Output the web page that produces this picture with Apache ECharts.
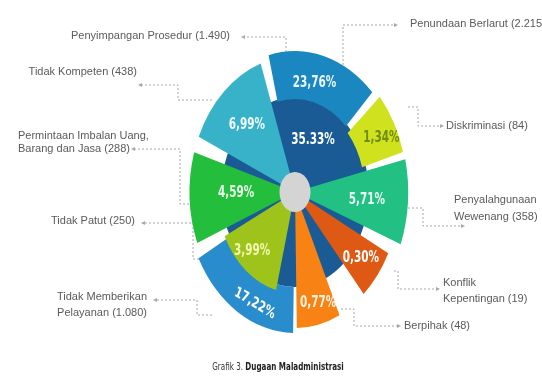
<!DOCTYPE html>
<html><head><meta charset="utf-8">
<script src="https://cdn.jsdelivr.net/npm/echarts@6/dist/echarts.min.js"></script>
<style>html,body{margin:0;padding:0;background:#fff}#c{width:542px;height:382px}</style>
</head><body><div id="c"></div>
<script>
// ---- data ----
const categories = ['Penundaan Berlarut','Penyimpangan Prosedur','Diskriminasi','Penyalahgunaan Wewenang','Konflik Kepentingan','Berpihak','Tidak Memberikan Pelayanan','Tidak Patut','Permintaan Imbalan Uang, Barang dan Jasa','Tidak Kompeten'];
const counts = ['2.215','1.490','84','358','19','48','1.080','250','288','438'];
const percents = ['35.33%','23,76%','1,34%','5,71%','0,30%','0,77%','17,22%','3,99%','4,59%','6,99%'];
// slice extents as drawn in the infographic (angle: degrees clockwise from 12 o'clock, radius: axis units)
const sliceStart = [0, -14, 49, 77, 117, 155, 181, 194, 248, 294];
const sliceEnd   = [360, 45, 74, 111, 139, 179, 242, 244, 287, 341];
const sliceInner = [0, 93, 90, 0, 0, 0, 95, 0, 0, 0];
const sliceOuter = [95, 141, 145, 146, 135, 136, 141, 101, 136, 136];

// ---- layout / styles ----
const squeezeX = 0.775; // the infographic is drawn horizontally compressed
const colors = ['#1a5b96','#1a87c0','#d0e11e','#22c082','#de5a14','#f88214','#288ccd','#9ec41c','#23be3c','#37b2c8'];
const pctR   = [57, 112, 124, 93, 108, 115, 123, 81, 76, 91];
const pctA   = [24, 13, 64, 95, 128, 165, 205, 223, 269, 317];
const pctRot = [0, 0, 0, 0, 0, 0, -25, 0, 0, 0];
const pctCol = ['#ffffff','#eaf6ff','#6f8c10','#e9fff2','#ffffff','#fff3e0','#ffffff','#f1f7b0','#eaffea','#f0fbff'];
const nameText = [
  'Penundaan Berlarut (2.215)','Penyimpangan Prosedur (1.490)','Diskriminasi (84)','Penyalahgunaan\nWewenang (358)',
  'Konflik\nKepentingan (19)','Berpihak (48)','Tidak Memberikan\nPelayanan (1.080)','Tidak Patut (250)',
  'Permintaan Imbalan Uang,\nBarang dan Jasa (288)','Tidak Kompeten (438)'];
const namePos = [[410,24,'left'],[230,36,'right'],[446,126,'left'],[454,208,'left'],[443,291,'left'],[404,326,'left'],[147,305,'right'],[135,221,'right'],[18,142,'left'],[137,72,'right']];
const nameLH  = [14,14,14,17,16,14,16,14,13,14];
const leaders = [
  [[343,157],[343,25],[396,25]],
  [[286,52],[286,37],[243,37]],
  [[408,107],[418,107],[418,126],[442,126]],
  [[408,208],[423,208],[423,226],[463,226]],
  [[394,271],[398,271],[398,289],[438,289]],
  [[341,309],[354,309],[354,326],[399,326]],
  [[212,315],[197,315],[197,300],[155,300]],
  [[227,259],[193,259],[193,223],[143,223]],
  [[193,204],[180,204],[180,149],[133,149]],
  [[212,100],[178,100],[178,85],[140,85]]
];

const narrow = '"Liberation Sans Narrow","Arial Narrow","DejaVu Sans Condensed",sans-serif';
const chart = echarts.init(document.getElementById('c'), null, {renderer:'canvas'});

const rows = categories.map((n,i)=>[sliceStart[i], sliceEnd[i], sliceInner[i], sliceOuter[i], pctR[i], pctA[i]]);
rows.push([0, 360, 0, 20, 0, 0]); // grey hub

const graphics = [];
leaders.forEach((pts)=>{
  graphics.push({type:'polyline', shape:{points:pts}, silent:true,
    style:{stroke:'#a8a8a8', lineWidth:1, lineDash:[2,2], fill:null}});
  const a = pts[pts.length-1], b = pts[pts.length-2];
  const dx = Math.sign(a[0]-b[0]), dy = Math.sign(a[1]-b[1]);
  const px = -dy, py = dx;
  graphics.push({type:'polygon', silent:true, shape:{points:[
    [a[0]+dx*2, a[1]+dy*2],[a[0]-dx*2+px*2, a[1]-dy*2+py*2],[a[0]-dx*2-px*2, a[1]-dy*2-py*2]]},
    style:{fill:'#a8a8a8'}});
});
nameText.forEach((t,i)=>{
  graphics.push({type:'text', x:namePos[i][0], y:namePos[i][1], silent:true,
    style:{text:t, fill:'#5a5a5a', font:'11px "Liberation Sans", Arial, sans-serif',
      align:namePos[i][2], verticalAlign:'middle', lineHeight:nameLH[i]}});
});
graphics.push({type:'text', x:278, y:367, silent:true, scaleX:0.8,
  style:{rich:{a:{fontFamily:narrow, fontSize:10, fill:'#333'}, b:{fontFamily:narrow, fontSize:10, fontWeight:'bold', fill:'#222'}},
    text:'{a|Grafik 3. }{b|Dugaan Maladministrasi}', align:'center', verticalAlign:'middle'}});

chart.setOption({
  animation:false,
  backgroundColor:'#ffffff',
  polar:{center:[295,192], radius:150},
  angleAxis:{type:'value', min:0, max:360, startAngle:90, clockwise:true, show:false},
  radiusAxis:{type:'value', min:0, max:150, show:false},
  series:[{
    type:'custom', coordinateSystem:'polar', silent:true,
    encode:{angle:0, radius:3},
    data:rows,
    renderItem:function(params, api){
      const i = params.dataIndex;
      const c = api.coord([0,0]);
      const rpx = r => { const p = api.coord([r,0]); return Math.hypot(p[0]-c[0], p[1]-c[1]); };
      const ang = a => { const p = api.coord([100,a]); return Math.atan2(p[1]-c[1], p[0]-c[0]); };
      const sv = api.value(0), ev = api.value(1);
      let s = ang(sv), e = ang(ev);
      if (ev - sv >= 360) e = s + Math.PI*2; else { while (e <= s) e += Math.PI*2; }
      const children = [{
        type:'sector',
        shape:{cx:c[0], cy:c[1], r0:rpx(api.value(2)), r:rpx(api.value(3)), startAngle:s, endAngle:e, clockwise:true},
        style:{fill: i < colors.length ? colors[i] : '#d4d4d4'}
      }];
      if (i < percents.length){
        const lp = api.coord([api.value(4), api.value(5)]);
        children.push({type:'text', x:lp[0], y:lp[1], rotation:pctRot[i]*Math.PI/180, z2:10,
          style:{text:percents[i], fill:pctCol[i], fontFamily:narrow, fontWeight:'bold', fontSize:15,
            align:'center', verticalAlign:'middle'}});
      }
      return {type:'group', scaleX:squeezeX, originX:c[0], originY:c[1], children};
    }
  }],
  graphic:graphics
});
</script></body></html>
